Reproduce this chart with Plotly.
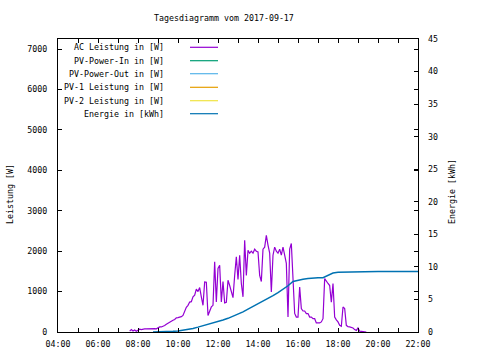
import plotly.graph_objects as go
import pandas as pd

day = "2017-09-17"
title_text = "Tagesdiagramm vom 2017-09-17"

# AC power, 5-minute samples starting 07:35 (W)
ac_start = "07:35"
ac_power = [
    20, 60, 25, 50, 20, 40, 70, 60, 75, 75, 75, 80, 80, 80, 80, 85, 80,          # 07:35-08:55
    110, 125, 125, 140, 160, 190, 220, 240, 260, 290, 310, 350,                  # 09:00-09:55
    355, 360, 380, 410, 540, 610, 660, 740, 750, 870, 910, 1060,                 # 10:00-10:55
    1000, 1100, 870, 660, 1240, 1230, 410, 540, 620, 660, 1735, 740,             # 11:00-11:55
    1575, 1650, 745, 1250, 720, 735, 1280, 1150, 980, 850, 1400, 1860,           # 12:00-12:55
    1300, 1900, 1200, 870, 2270, 1400, 2020, 1950, 2000, 1950, 2050, 2000,       # 13:00-13:55
    1980, 1400, 1250, 2050, 2100, 2390, 2150, 1950, 990, 1900, 2100, 2000,       # 14:00-14:55
    1950, 2050, 1900, 2100, 1900, 1700, 370, 2050, 2190, 1300, 460, 370,         # 15:00-15:55
    370, 1110, 580, 520, 520, 455, 455, 370, 370, 330, 330, 225,                 # 16:00-16:55
    225, 225, 250, 330, 1320, 1250, 1200, 1150, 740, 1200, 370, 300,             # 17:00-17:55
    250, 165, 140, 620, 580, 165, 130, 125, 110, 100, 60, 40,                    # 18:00-18:55
    100, 20, 15, 10, 10, 0,                                                      # 19:00-19:25
]

# Energy (kWh)
energy_times = [
    "08:45", "09:00", "09:15", "09:30", "09:45", "10:00", "10:15", "10:30", "10:45",
    "11:00", "11:15", "11:30", "11:45", "12:00", "12:15", "12:30", "12:45",
    "13:00", "13:15", "13:30", "13:45", "14:00", "14:15", "14:30", "14:45",
    "15:00", "15:15", "15:30", "15:45", "16:00", "16:15", "16:30", "16:45",
    "17:00", "17:15", "17:30", "17:45", "18:00", "18:15", "18:30", "18:45",
    "19:00", "20:00", "21:00", "22:00",
]
energy_kwh = [
    0.0, 0.0, 0.0, 0.0, 0.1, 0.15, 0.25, 0.38, 0.55,
    0.75, 0.95, 1.15, 1.38, 1.6, 1.85, 2.1, 2.4,
    2.7, 3.1, 3.5, 3.9, 4.3, 4.7, 5.15, 5.6,
    6.05, 6.55, 7.1, 7.75, 7.95, 8.1, 8.2, 8.3,
    8.35, 8.35, 8.7, 9.05, 9.18, 9.2, 9.28, 9.3,
    9.3, 9.3, 9.3, 9.3,
]

# series without data on this day
pv_power_in = []
pv_power_out = []
pv1_power = []
pv2_power = []

series_names = ["AC Leistung in [W]", "PV-Power-In in [W]", "PV-Power-Out in [W]",
                "PV-1 Leistung in [W]", "PV-2 Leistung in [W]", "Energie in [kWh]"]
series_colors = ["#9400D3", "#009E73", "#56B4E9", "#E69F00", "#F0E442", "#0072B2"]

x_tick_hours = list(range(4, 23))
y_left_ticks = [0, 1000, 2000, 3000, 4000, 5000, 6000, 7000]
y_right_ticks = [0, 5, 10, 15, 20, 25, 30, 35, 40, 45]

FONT = "DejaVu Sans Mono"
FS = 8.3

ac_x = pd.date_range(f"{day} {ac_start}", periods=len(ac_power), freq="5min")
e_x = [f"{day} {t}" for t in energy_times]

fig = go.Figure()
fig.add_trace(go.Scatter(x=ac_x, y=ac_power, mode="lines", name=series_names[0],
                         line=dict(color=series_colors[0], width=1.2), yaxis="y"))
for name, col, vals in zip(series_names[1:5], series_colors[1:5],
                           [pv_power_in, pv_power_out, pv1_power, pv2_power]):
    fig.add_trace(go.Scatter(x=ac_x[:len(vals)], y=vals, mode="lines", name=name,
                             line=dict(color=col, width=1.2), yaxis="y"))
fig.add_trace(go.Scatter(x=e_x, y=energy_kwh, mode="lines", name=series_names[5],
                         line=dict(color=series_colors[5], width=1.5), yaxis="y2"))

tickvals = [f"{day} {h:02d}:00" for h in x_tick_hours]
ticktext = [f"{h:02d}:00" if h % 2 == 0 else "" for h in x_tick_hours]

L, R, T, B = 58, 62, 39, 28
W, H = 480, 360
PW, PH = W - L - R, H - T - B

def px(x):
    return (x - L) / PW

def py(y):
    return (H - B - y) / PH

fig.update_layout(
    width=W, height=H,
    margin=dict(l=L, r=R, t=T, b=B, autoexpand=False),
    paper_bgcolor="white", plot_bgcolor="white",
    showlegend=False,
    font=dict(family=FONT, size=FS, color="black"),
    xaxis=dict(type="date", range=[f"{day} 04:00", f"{day} 22:00"],
               tickmode="array", tickvals=tickvals, ticktext=ticktext,
               ticks="inside", ticklen=4, tickcolor="black", automargin=False,
               showline=True, linecolor="black", linewidth=1, mirror="ticks",
               showgrid=False, zeroline=False, ticklabelstandoff=4,
               tickfont=dict(family=FONT, size=FS)),
    yaxis=dict(range=[0, 7250], tickmode="array", tickvals=y_left_ticks,
               ticks="inside", ticklen=4, tickcolor="black", automargin=False,
               showline=True, linecolor="black", linewidth=1, mirror="ticks",
               showgrid=False, zeroline=False, ticklabelstandoff=8,
               tickfont=dict(family=FONT, size=FS)),
    yaxis2=dict(range=[0, 45], tickmode="array", tickvals=y_right_ticks,
                overlaying="y", side="right", automargin=False,
                ticks="inside", ticklen=4, tickcolor="black",
                showline=False, showgrid=False, zeroline=False,
                ticklabelstandoff=9, tickfont=dict(family=FONT, size=FS)),
)

ann = [
    dict(text=title_text, x=px(224), y=py(18)),
    dict(text="Leistung [W]", x=px(10), y=py(194), textangle=-90),
    dict(text="Energie [kWh]", x=px(452), y=py(192), textangle=-90),
]
for a in ann:
    fig.add_annotation(xref="paper", yref="paper", showarrow=False,
                       xanchor="center", yanchor="middle",
                       font=dict(family=FONT, size=FS, color="black"), **a)

legend_rows = [47.3, 60.7, 73.7, 87.3, 100.7, 113.7]
for name, col, ry in zip(series_names, series_colors, legend_rows):
    fig.add_annotation(xref="paper", yref="paper", showarrow=False,
                       x=px(166), y=py(ry), xanchor="right", yanchor="middle",
                       text=name, font=dict(family=FONT, size=FS, color="black"))
    fig.add_shape(type="line", xref="paper", yref="paper",
                  x0=px(190), x1=px(218), y0=py(ry), y1=py(ry),
                  line=dict(color=col, width=1.2))

fig.write_html("out.html",
               config={"displayModeBar": False, "staticPlot": True},
               post_script="document.body.style.margin='0';document.body.style.padding='0';")
